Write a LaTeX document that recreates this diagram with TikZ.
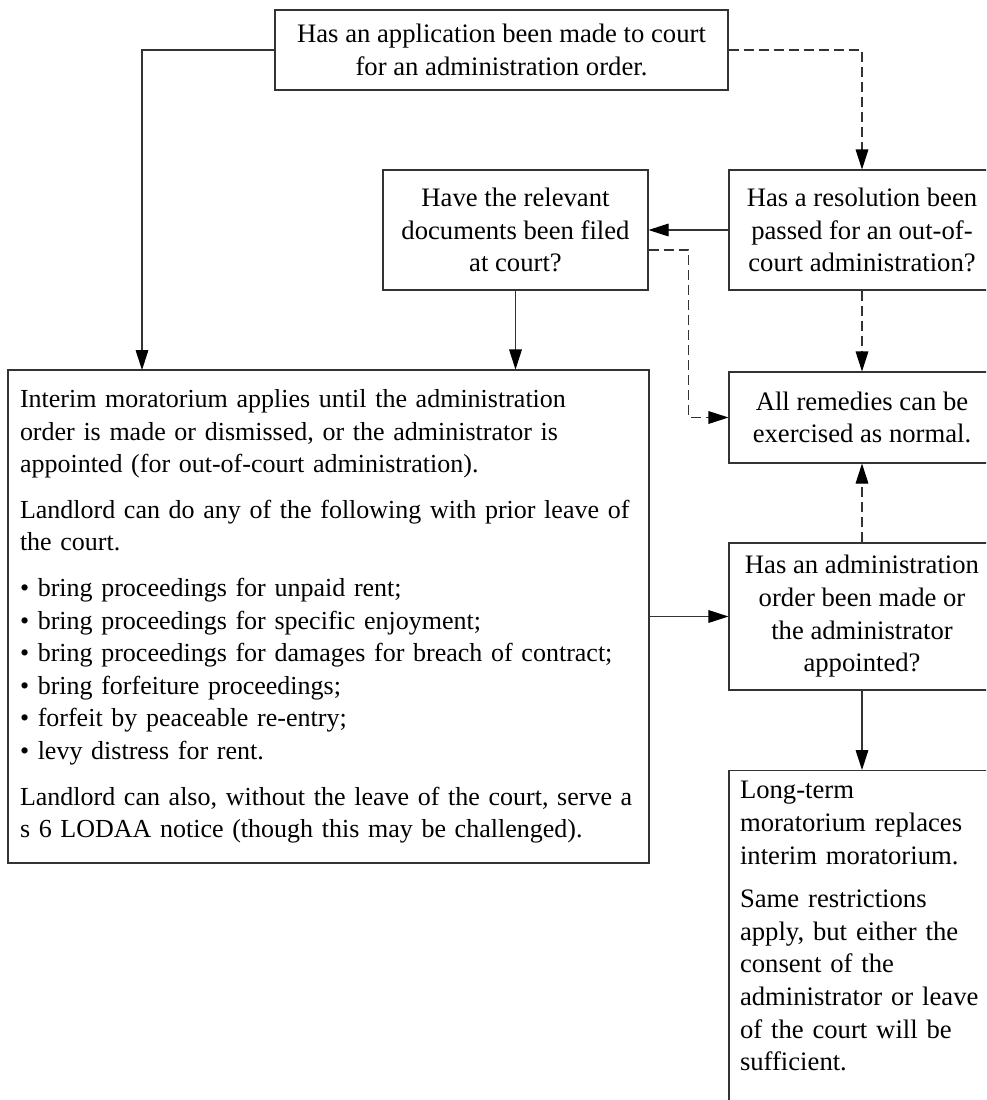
\documentclass[tikz,border=0pt]{standalone}
\usepackage{fontspec}
\setmainfont{Liberation Serif}
\usetikzlibrary{arrows.meta}

\begin{document}
\begin{tikzpicture}[x=0.75pt,y=-0.75pt,>={Triangle[length=15pt,width=9.5pt,color=black]},
  box/.style={draw=black!80,line width=0.8pt,inner sep=0pt,align=center,font=\fontsize{20}{24.5}\selectfont},
  textbox/.style={box,align=left,inner xsep=9pt,inner ysep=8pt},
  link/.style={draw=black!80,line width=0.8pt,->},
  maybe/.style={link,dash pattern=on 7.5pt off 3.75pt}]
\useasboundingbox (0,0) rectangle (986,1100);
\clip (0,0) rectangle (986,1100);
\node[box,minimum width=339.75pt,minimum height=60pt] (apply) at (501.5,50) {Has an application been made to court\\for an administration order.};
\node[box,minimum width=198.75pt,minimum height=90pt] (filed) at (515.5,230) {Have the relevant\\documents been filed\\at court?};
\node[box,minimum width=199.5pt,minimum height=90pt] (resol) at (862,230) {Has a resolution been\\passed for an out-of-\\court administration?};
\node[box,minimum width=199.5pt,minimum height=68.25pt] (remedies) at (862,417.5) {All remedies can be\\exercised as normal.};
\node[textbox,text width=462.75pt,minimum height=369.75pt,font=\fontsize{19.5}{24.4}\selectfont] (interim) at (328.5,616.5) {Interim moratorium applies until the administration\\order is made or dismissed, or the administrator is\\appointed (for out-of-court administration).\\[10pt]
Landlord can do any of the following with prior leave of\\the court.\\[10pt]
\textbullet\ bring proceedings for unpaid rent;\\
\textbullet\ bring proceedings for specific enjoyment;\\
\textbullet\ bring proceedings for damages for breach of contract;\\
\textbullet\ bring forfeiture proceedings;\\
\textbullet\ forfeit by peaceable re-entry;\\
\textbullet\ levy distress for rent.\\[10pt]
Landlord can also, without the leave of the court, serve a\\s 6 LODAA notice (though this may be challenged).};
\node[box,minimum width=199.5pt,minimum height=110.25pt] (appointed) at (862,616.5) {Has an administration\\order been made or\\the administrator\\appointed?};
\node[textbox,text width=183pt,inner xsep=8.25pt,anchor=north] (longterm) at (862,770) {Long-term\\moratorium replaces\\interim moratorium.\\[8pt]
Same restrictions\\apply, but either the\\consent of the\\administrator or leave\\of the court will be\\sufficient.\\[30pt]\mbox{}};
\coordinate (drop) at (142,370);
% connectors
\draw[link] (apply.west) -| (drop);
\draw[maybe] (apply.east) -| (resol.north);
\draw[link] (resol.west) -- (filed.east);
\draw[link] (filed.south) -- (filed.south |- interim.north);
\draw[maybe] ([yshift=-15pt]filed.east) -- ++(40,0) |- (remedies.west);
\draw[maybe] (resol.south) -- (remedies.north);
\draw[maybe] (appointed.north) -- (remedies.south);
\draw[link] (interim.east) -- (appointed.west);
\draw[link] (appointed.south) -- (longterm.north);
\end{tikzpicture}
\end{document}
